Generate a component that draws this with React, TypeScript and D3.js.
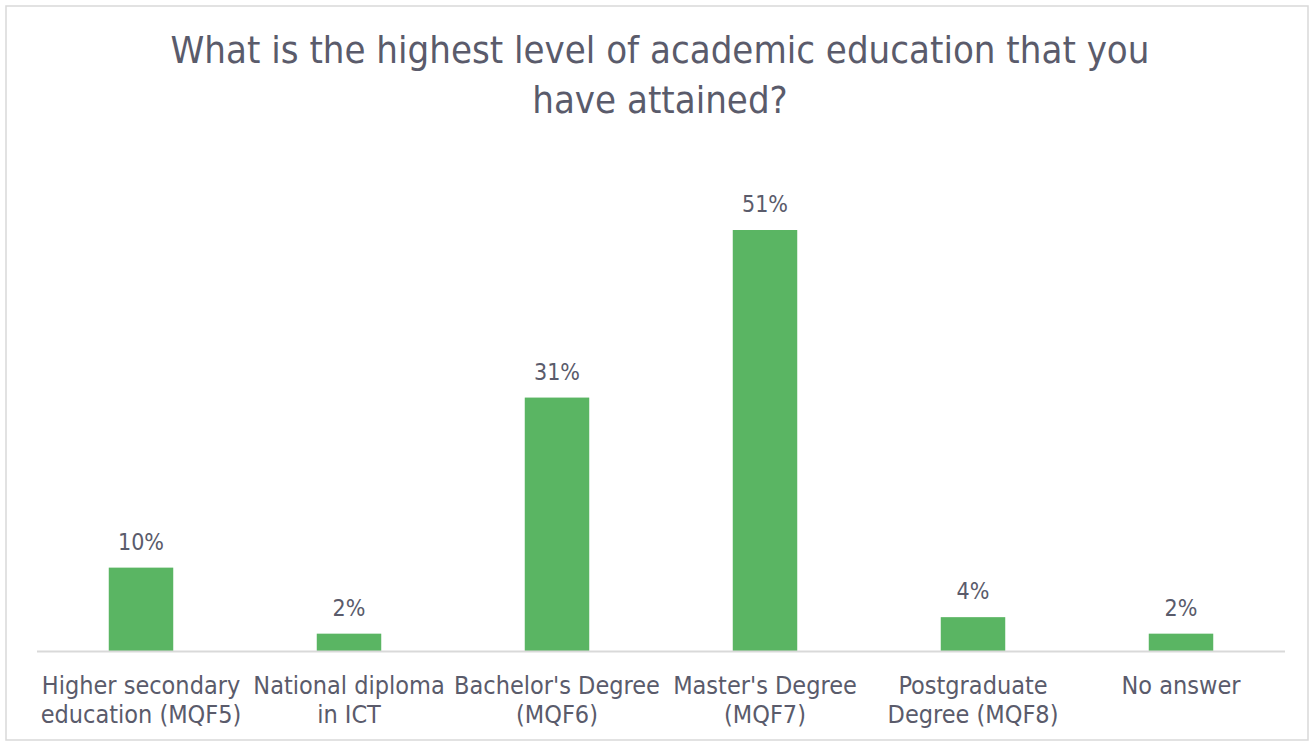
import React from "react";
import * as d3 from "d3";

const categories: string[][] = [
  ["Higher secondary", "education (MQF5)"],
  ["National diploma", "in ICT"],
  ["Bachelor's Degree", "(MQF6)"],
  ["Master's Degree", "(MQF7)"],
  ["Postgraduate", "Degree (MQF8)"],
  ["No answer"],
];
const values: number[] = [10.1, 2.1, 30.7, 51.0, 4.1, 2.1];
const valueLabels: string[] = ["10%", "2%", "31%", "51%", "4%", "2%"];
const titleLines: string[] = [
  "What is the highest level of academic education that you",
  "have attained?",
];

const W = 1313;
const H = 744;
const FONT = "'DejaVu Sans Condensed', 'Liberation Sans Narrow', 'Roboto', sans-serif";
const TEXT = "#5a5b6b";
const BAR = "#5ab563";

export default function App() {
  const keys = categories.map((_, i) => String(i));
  const x = d3.scaleBand<string>().domain(keys).range([37, 1285]).paddingInner(0.69).paddingOuter(0.345);
  const y = d3.scaleLinear().domain([0, 51]).range([651, 230]);

  return (
    <svg width={W} height={H} style={{ position: "absolute", left: 0, top: 0, background: "#fff" }} fontFamily={FONT}>
      <rect x={6} y={6} width={1302} height={734} fill="#fff" stroke="#d9d9d9" strokeWidth={1.5} />
      {titleLines.map((t, i) => (
        <text key={i} x={660} y={63 + i * 50} textAnchor="middle" fontSize={38} fill={TEXT}>
          {t}
        </text>
      ))}
      {values.map((v, i) => {
        const bx = x(String(i))!;
        const bw = x.bandwidth();
        return (
          <g key={i}>
            <rect x={bx} y={y(v)} width={bw} height={y(0) - y(v)} fill={BAR} />
            <text x={bx + bw / 2} y={y(v) - 18} textAnchor="middle" fontSize={23} fill={TEXT}>
              {valueLabels[i]}
            </text>
          </g>
        );
      })}
      <line x1={37} x2={1285} y1={651.5} y2={651.5} stroke="#d9d9d9" strokeWidth={2} />
      {categories.map((lines, i) => {
        const cx = x(String(i))! + x.bandwidth() / 2;
        return (
          <text key={i} x={cx} textAnchor="middle" fontSize={25} fill={TEXT}>
            {lines.map((l, j) => (
              <tspan key={j} x={cx} y={694 + j * 29}>
                {l}
              </tspan>
            ))}
          </text>
        );
      })}
    </svg>
  );
}
